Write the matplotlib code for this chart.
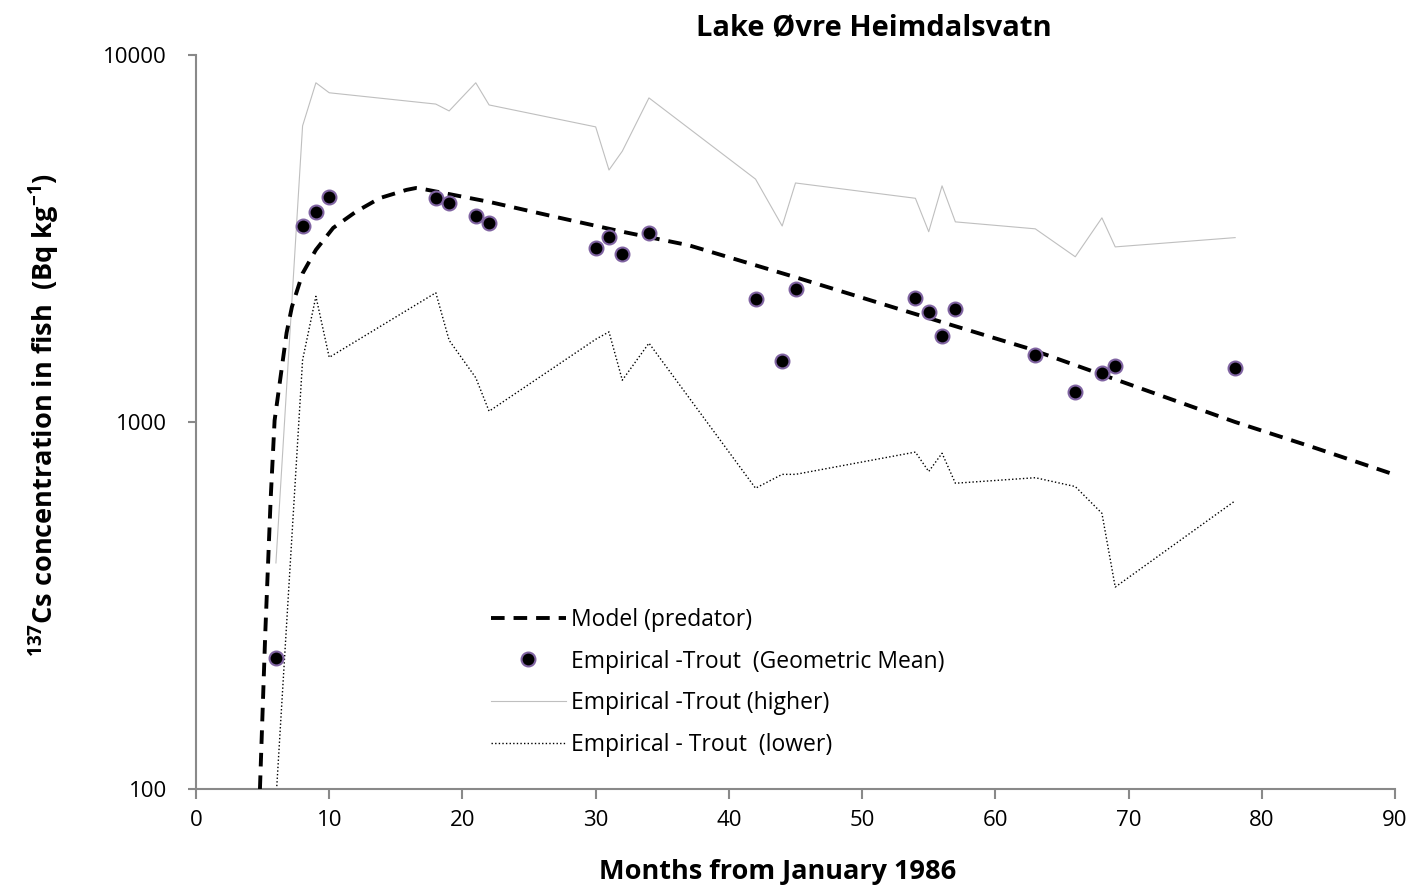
import matplotlib
matplotlib.use("Agg")
import matplotlib.pyplot as plt
from matplotlib.ticker import FixedLocator, FixedFormatter, NullLocator

plt.rcParams['font.family'] = ['Open Sans', 'DejaVu Sans']
plt.rcParams['mathtext.fontset'] = 'custom'
plt.rcParams['mathtext.rm'] = 'Open Sans:bold'
plt.rcParams['mathtext.bf'] = 'Open Sans:bold'

# months from January 1986
months = [6, 8, 9, 10, 18, 19, 21, 22, 30, 31, 32, 34, 42, 44, 45,
          54, 55, 56, 57, 63, 66, 68, 69, 78]
# geometric mean, trout (Bq/kg)
geo_mean = [228, 3420, 3730, 4100, 4080, 3950, 3640, 3480, 2980, 3190, 2870, 3270,
            2160, 1470, 2300, 2180, 2000, 1710, 2030, 1520, 1210, 1360, 1420, 1400]
higher = [413, 6410, 8400, 7890, 7350, 7040, 8400, 7310, 6370, 4860, 5470, 7640,
          4590, 3420, 4480, 4070, 3300, 4400, 3510, 3360, 2820, 3600, 3000, 3180]
lower = [93, 1475, 2200, 1500, 2250, 1670, 1320, 1070, 1680, 1760, 1300, 1640,
         660, 720, 720, 828, 733, 822, 681, 705, 667, 564, 355, 610]

# model (predator)
model_t = [4.8, 5.2, 5.6, 5.9, 6.8, 7.2, 8.0, 9.0, 10.3, 12.0, 13.8, 15.8, 16.5,
           17.1, 22.0, 27.0, 32.0, 37.0, 45.0, 52.6, 62.4, 78.0, 84.0, 90.0]
model_v = [100, 266, 612, 1010, 1750, 2060, 2540, 2945, 3380, 3740, 4075, 4290, 4340,
           4310, 3980, 3620, 3300, 3030, 2480, 2040, 1590, 1000, 850, 718]

fig = plt.figure(figsize=(14.14, 8.91), dpi=100)
ax = fig.add_axes([196 / 1414, 1 - 789 / 891, (1395 - 196) / 1414, (789 - 55) / 891])

ax.plot(model_t, model_v, color='black', lw=2.8, linestyle=(0, (3.5, 2.3)),
        label='Model (predator)', zorder=3)
ax.plot(months, geo_mean, linestyle='none', marker='o', markersize=10,
        markerfacecolor='black', markeredgecolor='#8064A2', markeredgewidth=1.5,
        label='Empirical -Trout  (Geometric Mean)', zorder=4)
ax.plot(months, higher, color='#BFBFBF', lw=0.8, label='Empirical -Trout (higher)', zorder=2)
ax.plot(months, lower, color='black', lw=1.0, linestyle=(0, (1, 1.6)),
        label='Empirical - Trout  (lower)', zorder=2)

ax.set_yscale('log')
ax.set_xlim(0, 90)
ax.set_ylim(100, 10000)
ax.yaxis.set_major_locator(FixedLocator([100, 1000, 10000]))
ax.yaxis.set_major_formatter(FixedFormatter(['100', '1000', '10000']))
ax.yaxis.set_minor_locator(NullLocator())
ax.set_xticks(range(0, 91, 10))

for s in ['top', 'right']:
    ax.spines[s].set_visible(False)
for s in ['left', 'bottom']:
    ax.spines[s].set_color('#898989')
    ax.spines[s].set_linewidth(1.5)
ax.tick_params(axis='both', colors='#898989', labelcolor='black', labelsize=16,
               width=1.5, length=7, direction='out')
ax.tick_params(axis='x', pad=8)
ax.tick_params(axis='y', pad=15, length=6)

leg = ax.legend(loc='upper left', bbox_to_anchor=(274 / 1199, 1 - 532 / 734),
                frameon=False, fontsize=16.5, handlelength=3.3, handletextpad=0.2,
                labelspacing=0.78)

fig.text(874 / 1414, 1 - 28 / 891, 'Lake Øvre Heimdalsvatn', ha='center', va='center',
         fontsize=21, fontweight='bold')
fig.text(778 / 1414, 1 - 872 / 891, 'Months from January 1986', ha='center', va='center',
         fontsize=19.5, fontweight='bold')
fig.text(44 / 1414, 1 - 415 / 891,
         r'$^{137}$Cs concentration in fish  (Bq kg$^{-1}$)', ha='center', va='center',
         rotation=90, fontsize=19.5, fontweight='bold')

fig.savefig('out.png', dpi=100)
